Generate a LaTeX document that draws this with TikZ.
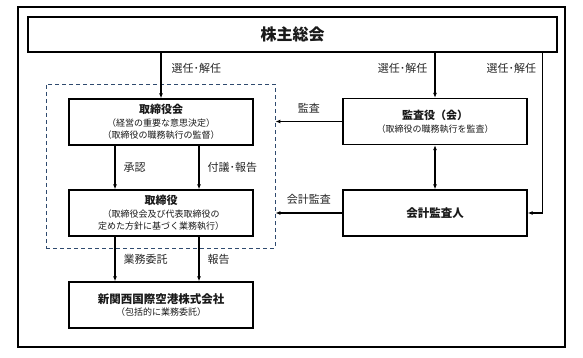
\documentclass[tikz,border=0pt]{standalone}
\usepackage{fontspec}
\setmainfont{Noto Sans CJK JP}
\usetikzlibrary{arrows.meta,positioning}

\definecolor{grpblue}{HTML}{2F4A6E}

\begin{document}
\begin{tikzpicture}[
  x=1pt, y=-1pt,
  box/.style={draw, line width=1.3pt, align=center, minimum width=184pt, minimum height=46pt, inner sep=0pt, font=\fontsize{9}{12.5}\selectfont, text=black!90},
  group/.style={draw=grpblue, dashed, line width=0.8pt, dash pattern=on 4pt off 3pt, minimum width=229pt, minimum height=164pt},
  lbl/.style={font=\fontsize{11}{12}\selectfont, text=black!85, inner sep=0pt},
  arrow/.style={-{Latex[length=5pt,width=4pt]}, line width=1.1pt},
  twoway/.style={{Latex[length=5pt,width=4pt]}-{Latex[length=5pt,width=4pt]}, line width=1.1pt}
]
\useasboundingbox (0,0) rectangle (583,358);

\node[draw, line width=1.2pt, minimum width=547pt, minimum height=340pt, inner sep=0pt] (frame) at (291.5,177) {};

\node[box, minimum width=529pt, minimum height=35pt, font=\fontsize{16}{18}\selectfont\bfseries] (agm) at (292.5,34.5)
  {株主総会};

\node[group] (exec) at (160.5,166) {};

\node[box] (board) at (161,122)
  {{\fontsize{11}{13}\selectfont\bfseries 取締役会}\\（経営の重要な意思決定）\\（取締役の職務執行の監督）};
\node[box] (director) at (161,213)
  {{\fontsize{11}{13}\selectfont\bfseries 取締役}\\（取締役会及び代表取締役の\\定めた方針に基づく業務執行）};
\node[box] (kix) at (161,305)
  {{\fontsize{11.5}{13}\selectfont\bfseries 新関西国際空港株式会社}\\（包括的に業務委託）};
\node[box] (auditboard) at (435,121.5)
  {{\fontsize{11}{13}\selectfont\bfseries 監査役（会）}\\（取締役の職務執行を監査）};
\node[box] (accountant) at (435,213)
  {{\fontsize{11.5}{13}\selectfont\bfseries 会計監査人}};

\draw[arrow] (board.north |- agm.south) -- node[lbl, right=10pt, pos=0.34] {選任･解任} (board.north);
\draw[arrow] (auditboard.north |- agm.south) -- node[lbl, left=7pt, pos=0.34] {選任･解任} (auditboard.north);
\draw[arrow] ([xshift=-15pt]agm.south east) |- node[lbl, left=6pt, pos=0.05] {選任･解任} (accountant.east);

\draw[arrow] (auditboard.west) -- node[lbl, above=8pt] {監査} (auditboard.west -| exec.east);
\draw[arrow] (accountant.west) -- node[lbl, above=8pt] {会計監査} (accountant.west -| exec.east);
\draw[twoway] (auditboard.south) -- (accountant.north);

\draw[arrow] ([xshift=-46pt]board.south) -- node[lbl, right=8pt] {承認} ([xshift=-46pt]director.north);
\draw[arrow] ([xshift=38pt]board.south) -- node[lbl, right=8pt] {付議･報告} ([xshift=38pt]director.north);
\draw[arrow] ([xshift=-46pt]director.south) -- node[lbl, right=8pt] {業務委託} ([xshift=-46pt]kix.north);
\draw[arrow] ([xshift=38pt]director.south) -- node[lbl, right=8pt] {報告} ([xshift=38pt]kix.north);

\end{tikzpicture}
\end{document}
